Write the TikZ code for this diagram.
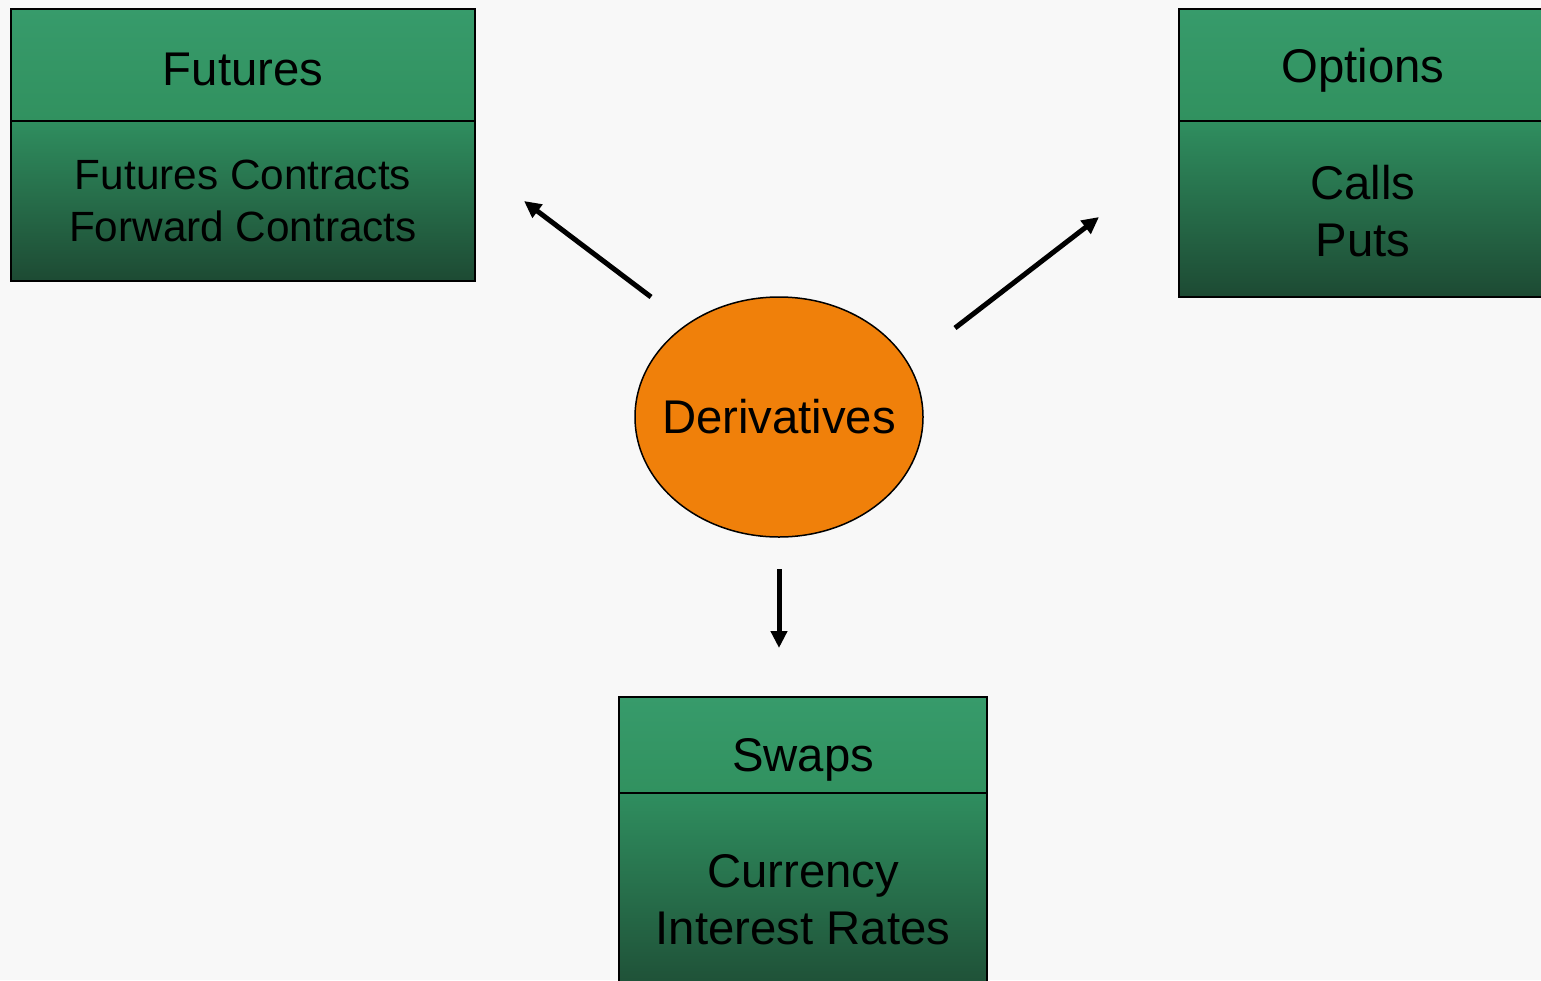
\documentclass[tikz,border=0pt]{standalone}
\usepackage{fontspec}
\setmainfont{Liberation Sans}
\usetikzlibrary{arrows.meta,shapes.geometric}
\definecolor{bgc}{HTML}{F8F8F8}
\definecolor{gtopA}{HTML}{379B6B}
\definecolor{gtopB}{HTML}{31915F}
\definecolor{gbotA}{HTML}{2F8E5F}
\definecolor{gbotB}{HTML}{1D4A33}
\definecolor{orng}{HTML}{F0800A}
\tikzset{
  titlebox/.style={draw=black, line width=1pt, top color=gtopA, bottom color=gtopB, inner sep=0pt, outer sep=0pt},
  bodybox/.style={draw=black, line width=1pt, top color=gbotA, bottom color=gbotB, inner sep=0pt, outer sep=0pt, align=center, font=\fontsize{23.65}{28.5}\selectfont},
  smallbody/.style={font=\fontsize{21.15}{26}\selectfont},
  label/.style={inner sep=0pt, font=\fontsize{23.65}{28.5}\selectfont},
  conn/.style={line width=2.5pt, -{Triangle[length=8.5pt,width=8pt]}},
}
\begin{document}
\begin{tikzpicture}[x=0.5pt,y=-0.5pt]
\useasboundingbox (0,0) rectangle (1541,980);
\clip (0,0) rectangle (1541,980);
\fill[bgc] (0,0) rectangle (1541,980);
% Futures
\node[bodybox, smallbody, minimum width=232pt, minimum height=80pt] (futb) at (243,201) {Futures Contracts\\Forward Contracts};
\node[titlebox, minimum width=232pt, minimum height=56pt] (futt) at (243,65) {};
\node[label] (futl) at (243,69) {Futures};
% Options
\node[bodybox, minimum width=184pt, minimum height=88pt] (optb) at (1363,209) {};
\node[label, align=center] (optbl) at (1363,211) {Calls\\Puts};
\node[titlebox, minimum width=184pt, minimum height=56pt] (optt) at (1363,65) {};
\node[label] (optl) at (1363,70) {Options};
% Swaps
\node[bodybox, minimum width=184pt, minimum height=107pt] (swpb) at (803,900) {Currency\\Interest Rates};
\node[titlebox, minimum width=184pt, minimum height=48pt] (swpt) at (803,745) {};
\node[label] (swpl) at (803,760) {Swaps};
% Center
\node[ellipse, draw=black, line width=0.75pt, fill=orng, minimum width=144pt, minimum height=120pt, inner sep=0pt] (der) at (779,417) {};
\node[label] (derl) at (der.center) {Derivatives};
% connectors
\coordinate (a1s) at (651,297);
\coordinate (a1e) at (524,201);
\coordinate (a2s) at (955,328);
\coordinate (a2e) at (1099,217);
\coordinate (a3s) at (779,569);
\coordinate (a3e) at (779,648);
\draw[conn] (a1s) -- (a1e);
\draw[conn] (a2s) -- (a2e);
\draw[conn] (a3s) -- (a3e);
\end{tikzpicture}
\end{document}
